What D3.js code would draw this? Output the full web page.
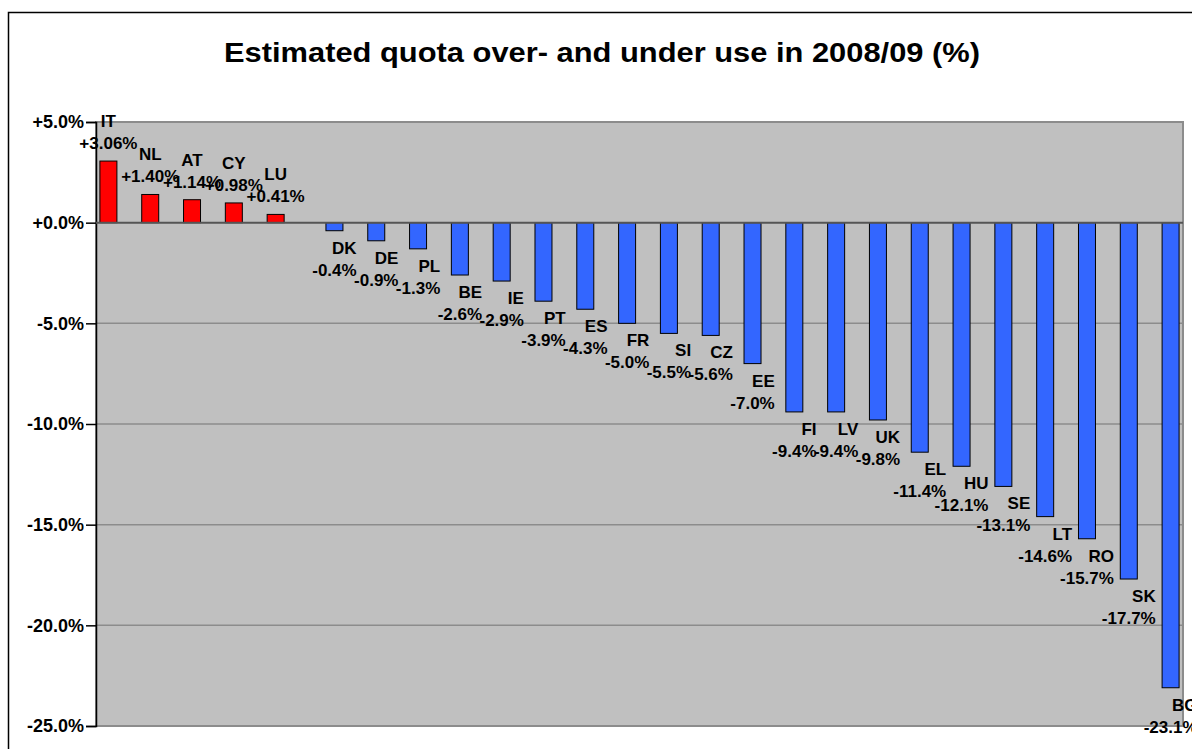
<!DOCTYPE html>
<html>
<head>
<meta charset="utf-8">
<script src="https://cdn.jsdelivr.net/npm/d3@7/dist/d3.min.js"></script>
<style>
	body{margin:0;background:#fff;}
	text{font-family:Arial,"Liberation Sans",sans-serif;font-weight:bold;fill:#000;}
	.grid line{stroke:#8c8c8c;stroke-width:1.5;}
	.bar{stroke:#000;stroke-width:1;}
</style>
</head>
<body>
<div id="plot"></div>
<script>
//Country codes and estimated over/under use (%), left to right
var countries = ['IT','NL','AT','CY','LU','DK','DE','PL','BE','IE','PT','ES','FR','SI','CZ','EE','FI','LV','UK','EL','HU','SE','LT','RO','SK','BG'];
var values = [3.06,1.40,1.14,0.98,0.41,-0.4,-0.9,-1.3,-2.6,-2.9,-3.9,-4.3,-5.0,-5.5,-5.6,-7.0,-9.4,-9.4,-9.8,-11.4,-12.1,-13.1,-14.6,-15.7,-17.7,-23.1];
//two series side by side in each category: over use (red) and under use (blue)
var seriesNames = ['over','under'];
var yTicks = [5,0,-5,-10,-15,-20,-25];
var TITLE = 'Estimated quota over- and under use in 2008/09 (%)';

var W = 1192, H = 749;
//plot area edges
var P = {l:96,t:122,r:1183,b:726};

var data = countries.map(function(c,i){
	return {code:c,value:values[i],series:values[i]>0?'over':'under'};
});

var locale = d3.formatLocale({decimal:'.',thousands:',',grouping:[3],currency:['',''],minus:'-'});
var fmtTick = locale.format('+.1f'),
	fmtPos = locale.format('+.2f'),
	fmtNeg = locale.format('.1f');

var svg = d3.select('#plot').append('svg')
	.attr('width',W)
	.attr('height',H);

//outer chart border (runs off the right and bottom)
svg.append('rect')
	.attr('x',8.5).attr('y',12.5)
	.attr('width',1300).attr('height',900)
	.attr('fill','none')
	.attr('stroke','#000')
	.attr('stroke-width',1.5);

svg.append('text')
	.attr('x',602)
	.attr('y',62)
	.attr('text-anchor','middle')
	.attr('font-size',28)
	.attr('textLength',756)
	.attr('lengthAdjust','spacingAndGlyphs')
	.text(TITLE);

var scaleY = d3.scaleLinear().domain([5,-25]).range([P.t,P.b]);
var scaleX = d3.scaleBand().domain(countries).range([P.l,P.r]).padding(0);
var STEP = scaleX.bandwidth(),
	BAR_W = STEP/2.46;
var scaleS = d3.scaleBand().domain(seriesNames).range([STEP/2-BAR_W,STEP/2+BAR_W]);
function barX(d){return scaleX(d.code)+scaleS(d.series)}

//plot background
svg.append('rect')
	.attr('x',P.l).attr('y',P.t)
	.attr('width',P.r-P.l).attr('height',P.b-P.t)
	.attr('fill','#c0c0c0')
	.attr('stroke','#8c8c8c')
	.attr('stroke-width',2);

//gridlines
svg.append('g').attr('class','grid')
	.selectAll('line')
	.data(yTicks.filter(function(d){return d!==0}))
	.enter()
	.append('line')
	.attr('x1',P.l).attr('x2',P.r)
	.attr('y1',function(d){return scaleY(d)})
	.attr('y2',function(d){return scaleY(d)});

//y axis
var yAxis = d3.axisLeft(scaleY)
	.tickValues(yTicks)
	.tickSize(10)
	.tickPadding(2)
	.tickFormat(function(d){return fmtTick(d)+'%'});
var gy = svg.append('g').attr('class','axis axis-y')
	.attr('transform','translate('+P.l+',0)')
	.call(yAxis);
gy.select('.domain').attr('stroke','#000').attr('stroke-width',1.5);
gy.selectAll('.tick line').attr('stroke','#000').attr('stroke-width',1.5);
gy.selectAll('.tick text')
	.attr('font-size',18)
	.attr('font-family','Arial, "Liberation Sans", sans-serif')
	.attr('font-weight','bold')
	.attr('fill','#000');

//bars
svg.selectAll('.bar')
	.data(data)
	.enter()
	.append('rect').attr('class','bar')
	.attr('x',barX)
	.attr('width',scaleS.bandwidth())
	.attr('y',function(d){return scaleY(Math.max(0,d.value))})
	.attr('height',function(d){return Math.abs(scaleY(d.value)-scaleY(0))})
	.attr('fill',function(d){return d.series==='over'?'#ff0000':'#3366ff'});

//zero (category) axis line
svg.append('line')
	.attr('x1',P.l).attr('x2',P.r)
	.attr('y1',scaleY(0)).attr('y2',scaleY(0))
	.attr('stroke','#555')
	.attr('stroke-width',2);

//labels: code on top, value below
var labels = svg.selectAll('.label')
	.data(data)
	.enter()
	.append('g').attr('class','label')
	.attr('transform',function(d){
		return 'translate('+(barX(d)+scaleS.bandwidth()/2)+','+scaleY(d.value)+')';
	});
labels.append('text').attr('class','val')
	.attr('font-size',17)
	.attr('text-anchor','middle')
	.attr('y',function(d){return d.value>0?-12:45})
	.text(function(d){return (d.value>0?fmtPos(d.value):fmtNeg(d.value))+'%'});
labels.each(function(d){
	var g = d3.select(this),
		vw = g.select('.val').node().getComputedTextLength();
	g.append('text')
		.attr('font-size',17)
		.attr('text-anchor',d.value>0?'middle':'end')
		.attr('x',d.value>0?0:vw/2)
		.attr('y',d.value>0?-34:23)
		.text(d.code);
});
</script>
</body>
</html>
